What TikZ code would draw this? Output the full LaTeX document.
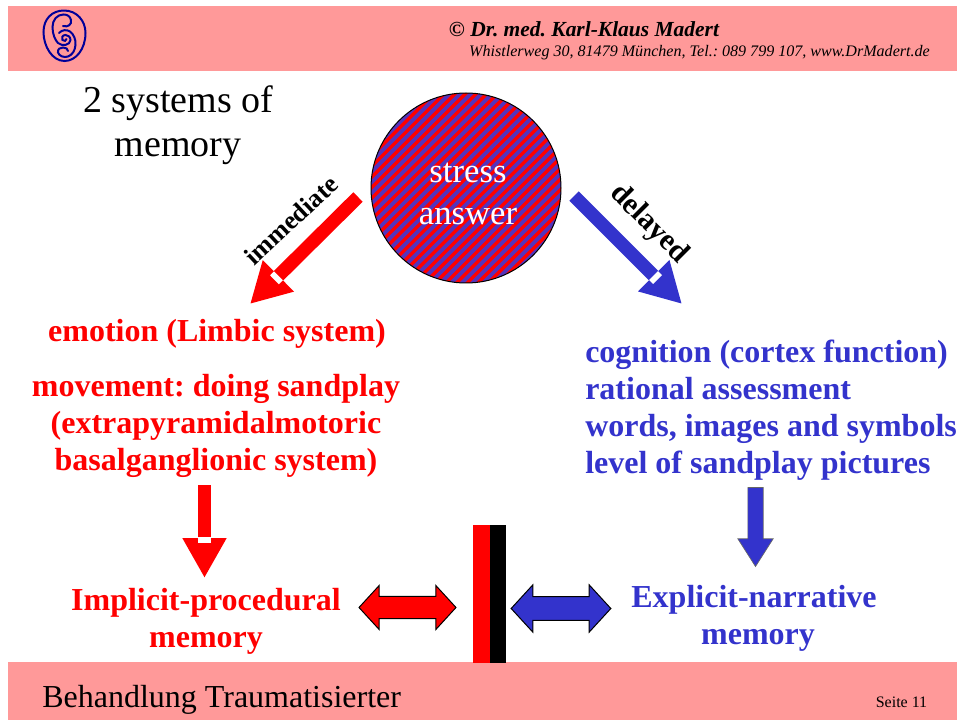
\documentclass[tikz,border=0pt]{standalone}
\usepackage{fontspec}
\setmainfont{Liberation Serif}
\usetikzlibrary{arrows.meta,shapes.arrows}
\frenchspacing
\definecolor{bandpink}{HTML}{FF9999}
\definecolor{slideblue}{HTML}{3333CC}
\definecolor{stripeblue}{HTML}{5533BB}
\definecolor{logoblue}{HTML}{000099}
\tikzset{
	band/.style={fill=bandpink, draw=none},
	redtext/.style={text=red, font=\fontsize{24}{27.75}\selectfont\bfseries, align=center, inner sep=0pt},
	bluetext/.style={text=slideblue, font=\fontsize{24}{27.75}\selectfont\bfseries, inner sep=0pt},
	plaintext/.style={font=\fontsize{28.5}{33}\selectfont, inner sep=0pt, align=center},
	fatline/.style={line width=10pt, -{Triangle[length=30pt, width=31pt]}},
	whitetick/.style={fill=white, draw=none, minimum width=4.2pt, minimum height=9.5pt, inner sep=0pt},
	bothways/.style={double arrow, draw=black, line width=0.75pt, inner xsep=0pt,
		double arrow tip angle=95},
	logoline/.style={draw=logoblue, line width=1.5pt, line cap=round},
}
% draws one long arrow between two named coordinates, with the white tick at pos #4
\newcommand{\fatarrow}[4]{
	\draw[fatline, #3] (#1) -- (#2);
	\path (#1) -- (#2) node[whitetick, pos=#4, sloped] {};
}
\begin{document}
\begin{tikzpicture}[x=0.75pt, y=-0.75pt]
\useasboundingbox (0, 0) rectangle (957, 720);

% header and footer
\path[band] (8, 6) rectangle (957, 71);
\path[band] (8, 662) rectangle (957, 720);

% logo
\draw[logoline] (64, 10.5) .. controls (77, 10.5) and (85.5, 21) .. (85.5, 33)
	.. controls (85.5, 49) and (76, 61) .. (64.5, 61)
	.. controls (52, 61) and (43.5, 46) .. (43.5, 32)
	.. controls (43.5, 19) and (52, 10.5) .. (64, 10.5);
\draw[logoline] (63, 26) .. controls (68, 27.5) and (72, 24.5) .. (71, 20)
	.. controls (70, 16) and (67, 14.5) .. (63.5, 14.5)
	.. controls (57, 14.5) and (52.5, 20) .. (52.5, 27)
	.. controls (52.5, 34) and (55, 40) .. (58, 43)
	.. controls (62, 46.5) and (70, 45.5) .. (70.5, 40)
	.. controls (70.5, 36.5) and (67.5, 35) .. (65.5, 35)
	.. controls (62.5, 35) and (61, 38) .. (62.5, 40)
	.. controls (64, 41.5) and (66.5, 41) .. (66.5, 39);
\draw[logoline] (59, 33) .. controls (62, 29.5) and (67, 29.5) .. (70, 31.5)
	.. controls (74, 34.5) and (76, 40) .. (75.5, 45)
	.. controls (75, 51) and (72, 55) .. (68, 56.5)
	.. controls (64, 58) and (59, 56) .. (58, 52.5)
	.. controls (57.5, 49) and (60, 47.5) .. (63, 47.5)
	.. controls (66, 47.5) and (68, 49) .. (68, 51);

\node[anchor=base, font=\fontsize{16.1}{18}\selectfont\bfseries\itshape, inner sep=0pt] (author) at (584, 37) {© Dr. med. Karl-Klaus Madert};
\node[anchor=base, font=\fontsize{12.05}{14}\selectfont\itshape, inner sep=0pt] (address) at (699.5, 57) {Whistlerweg 30, 81479 München, Tel.: 089 799 107, www.DrMadert.de};
\node[anchor=base west, font=\fontsize{24}{28}\selectfont, inner sep=0pt] (title) at (42, 707) {Behandlung Traumatisierter};
\node[anchor=base, font=\fontsize{12}{14}\selectfont, inner sep=0pt] (page) at (901.5, 707) {Seite 11};

\node[plaintext, anchor=north] (heading) at (178, 85) {2 systems of\\memory};

% stress circle
\begin{scope}
	\clip (466, 188) circle [radius=95];
	\fill[red] (370, 92) rectangle (562, 284);
	\foreach \k in {0,...,40} {
		\draw[stripeblue, line width=2.9pt] (360+\k*10.6, 300) -- ++(220, -220);
		\draw[stripeblue, line width=2.9pt] (360-\k*10.6, 300) -- ++(220, -220);
	}
\end{scope}
\node[circle, draw=black, line width=0.75pt, minimum size=142.5pt, inner sep=0pt] (stress) at (466, 188) {};
\node[plaintext, text=white, font=\fontsize{26}{31.5}\selectfont] (stresstext) at (468, 194) {stress\\answer};

% upper arrows
\coordinate (immstart) at (358, 197);
\coordinate (immtip) at (250, 304);
\coordinate (delstart) at (574, 196);
\coordinate (deltip) at (682, 304);
\fatarrow{immstart}{immtip}{red}{0.755}
\fatarrow{delstart}{deltip}{slideblue}{0.755}
\node[rotate=43, font=\fontsize{19.5}{22}\selectfont\bfseries, inner sep=0pt] (immlabel) at (291, 220) {immediate};
\node[rotate=-45, font=\fontsize{22.5}{24}\selectfont\bfseries, inner sep=0pt] (dellabel) at (649, 224) {delayed};

% text columns
\node[redtext, anchor=base] (emotion) at (217, 342) {emotion (Limbic system)};
\node[redtext, anchor=north] (movement) at (216, 374) {movement: doing sandplay\\(extrapyramidalmotoric\\basalganglionic system)};
\node[bluetext, anchor=north west, align=left] (cognition) at (585, 340) {cognition (cortex function)\\rational assessment\\words, images and symbols\\level of sandplay pictures};

% lower arrows
\coordinate (redtop) at (204.5, 485);
\coordinate (redtip) at (204.5, 578);
\fatarrow{redtop}{redtip}{red}{0.59}
\node[single arrow, draw=black!60, fill=slideblue, line width=0.5pt, rotate=-90,
	inner xsep=0pt, inner ysep=5.5pt, minimum height=59.25pt,
	single arrow head extend=7.5pt, single arrow tip angle=65] (bluedown) at (755.5, 521) {};

\node[redtext, anchor=north] (implicit) at (206, 588) {Implicit-procedural\\memory};
\node[bluetext, anchor=north, align=center] (explicit) at (754, 585) {Explicit-narrative\\\hspace*{6pt}memory};

% bar with the two double arrows
\fill[red] (473, 525) rectangle (490, 663);
\fill[black] (490, 525) rectangle (506, 663);
\node[bothways, fill=red, inner ysep=7.9pt, double arrow head extend=8.25pt, minimum height=72.75pt] (redboth) at (407.5, 607.5) {};
\node[bothways, fill=slideblue, inner ysep=8.6pt, double arrow head extend=8.7pt, minimum height=74.75pt] (blueboth) at (561, 608.5) {};
\end{tikzpicture}
\end{document}
